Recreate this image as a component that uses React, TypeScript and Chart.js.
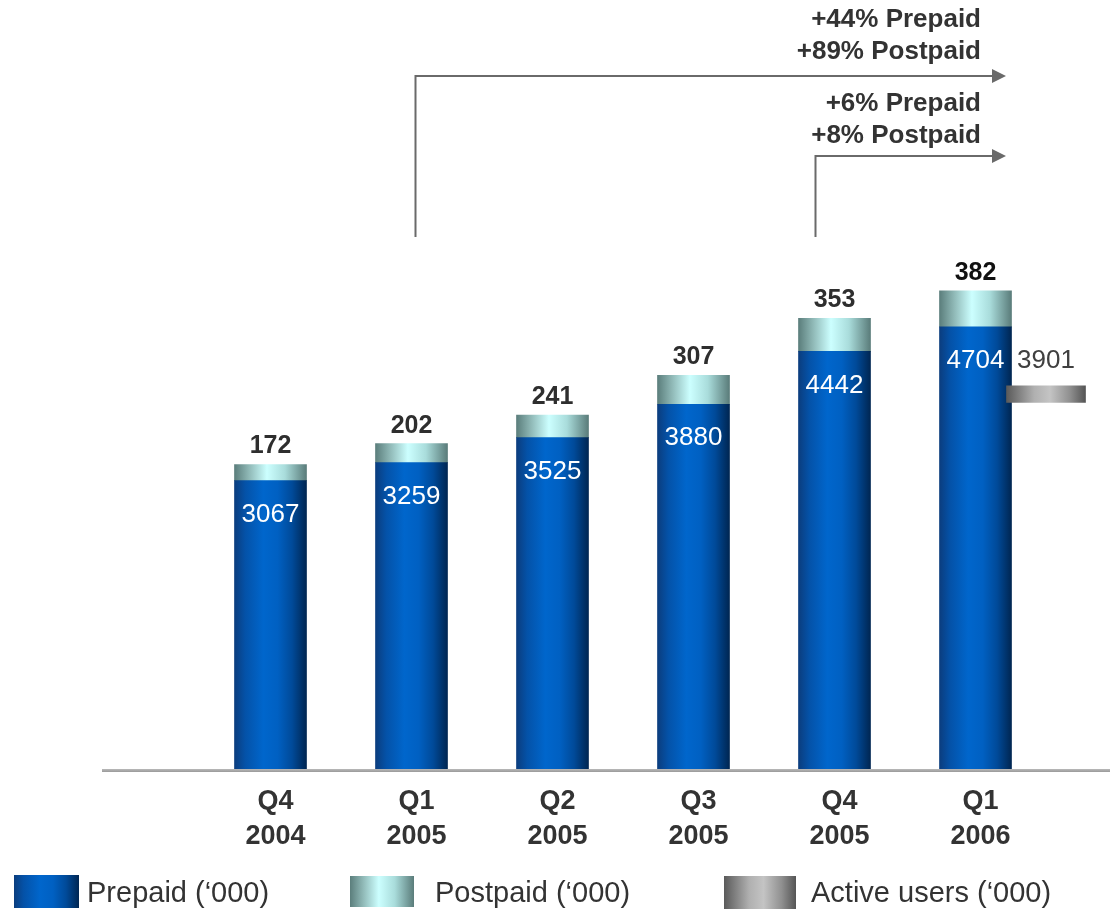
import React, { useEffect, useRef } from 'react';
import { Chart, registerables } from 'chart.js';

Chart.register(...registerables);

// ---- data ----
const quarters: string[][] = [
  ['Q4', '2004'],
  ['Q1', '2005'],
  ['Q2', '2005'],
  ['Q3', '2005'],
  ['Q4', '2005'],
  ['Q1', '2006'],
];
const prepaid = [3067, 3259, 3525, 3880, 4442, 4704];
const postpaid = [172, 202, 241, 307, 353, 382];
const activeUsers: (number | null)[] = [null, null, null, null, null, 3901];
const growthLong = ['+44% Prepaid', '+89% Postpaid'];
const growthShort = ['+6% Prepaid', '+8% Postpaid'];
const legendLabels = ['Prepaid (‘000)', 'Postpaid (‘000)', 'Active users (‘000)'];

// ---- styles ----
const FONT = '"Liberation Sans", Arial, Helvetica, sans-serif';
const BAR_W = 72;
const ACTIVE_W = 79;
const ACTIVE_MARK = 175; // thickness of the active-users marker (value units)

const prepaidStops: [number, string][] = [
  [0, '#0b3d7e'],
  [0.15, '#0452a8'],
  [0.4, '#0066cc'],
  [0.6, '#0060c2'],
  [0.8, '#004a99'],
  [1, '#002652'],
];
const postpaidStops: [number, string][] = [
  [0, '#5b7e7c'],
  [0.2, '#8fb8b6'],
  [0.45, '#ccffff'],
  [0.7, '#a9dcdb'],
  [1, '#5a7c7a'],
];
const activeStops: [number, string][] = [
  [0, '#5a5a5a'],
  [0.35, '#b0b0b0'],
  [0.55, '#c4c4c4'],
  [0.8, '#909090'],
  [1, '#555555'],
];

function grad(ctx: CanvasRenderingContext2D, x0: number, x1: number, stops: [number, string][]) {
  const g = ctx.createLinearGradient(x0, 0, x1, 0);
  stops.forEach(([o, c]) => g.addColorStop(o, c));
  return g;
}

function barFill(stops: [number, string][], width: number, axisId: string) {
  return (c: any) => {
    const chart = c.chart;
    const scale = chart.scales[axisId];
    if (!chart.chartArea || !scale || c.type !== 'data') return stops[2][1];
    const cx = scale.getPixelForValue(c.dataIndex);
    return grad(chart.ctx, cx - width / 2, cx + width / 2, stops);
  };
}

const baselinePlugin = {
  id: 'baseline',
  beforeDatasetsDraw(chart: any) {
    const { ctx, chartArea } = chart;
    ctx.save();
    const g = ctx.createLinearGradient(0, chartArea.bottom - 1, 0, chartArea.bottom + 3);
    g.addColorStop(0, '#c4c4c4');
    g.addColorStop(1, '#9a9a9a');
    ctx.fillStyle = g;
    ctx.fillRect(102, chartArea.bottom, 1110 - 102, 3);
    ctx.restore();
  },
};

const valueLabelsPlugin = {
  id: 'valueLabels',
  afterDatasetsDraw(chart: any) {
    const ctx = chart.ctx;
    ctx.save();
    ctx.textAlign = 'center';
    ctx.textBaseline = 'middle';
    chart.getDatasetMeta(0).data.forEach((bar: any, i: number) => {
      ctx.font = `26px ${FONT}`;
      ctx.fillStyle = '#ffffff';
      ctx.fillText(String(prepaid[i]), bar.x, bar.y + 34);
    });
    chart.getDatasetMeta(1).data.forEach((bar: any, i: number) => {
      ctx.font = `bold 25px ${FONT}`;
      ctx.fillStyle = i === postpaid.length - 1 ? '#111111' : '#2e2e2e';
      ctx.fillText(String(postpaid[i]), bar.x, bar.y - 18);
    });
    chart.getDatasetMeta(2).data.forEach((bar: any, i: number) => {
      const v = activeUsers[i];
      if (v == null) return;
      ctx.font = `26px ${FONT}`;
      ctx.fillStyle = '#404040';
      ctx.fillText(String(v), bar.x, bar.y - 25);
    });
    ctx.restore();
  },
};

const annotationPlugin = {
  id: 'growthArrows',
  afterDraw(chart: any) {
    const { ctx } = chart;
    const xs = chart.scales.x;
    const tipX = 1006;
    const headLen = 14;
    const drawArrow = (x: number, yTop: number, yBottom: number) => {
      ctx.beginPath();
      ctx.moveTo(x, yBottom);
      ctx.lineTo(x, yTop);
      ctx.lineTo(tipX - headLen, yTop);
      ctx.stroke();
      ctx.beginPath();
      ctx.moveTo(tipX - headLen, yTop - 7);
      ctx.lineTo(tipX, yTop);
      ctx.lineTo(tipX - headLen, yTop + 7);
      ctx.closePath();
      ctx.fill();
    };
    ctx.save();
    ctx.strokeStyle = '#6a6a6a';
    ctx.fillStyle = '#6a6a6a';
    ctx.lineWidth = 2;
    drawArrow(Math.round(xs.getPixelForValue(1)) + 3.5, 76, 237);
    drawArrow(Math.round(xs.getPixelForValue(4)) - 19.5, 156, 237);

    ctx.font = `bold 26px ${FONT}`;
    ctx.fillStyle = '#333333';
    ctx.textAlign = 'right';
    ctx.textBaseline = 'middle';
    ctx.fillText(growthLong[0], 981, 20);
    ctx.fillText(growthLong[1], 981, 52);
    ctx.fillText(growthShort[0], 981, 104);
    ctx.fillText(growthShort[1], 981, 136);
    ctx.restore();
  },
};

const legendPlugin = {
  id: 'customLegend',
  afterDraw(chart: any) {
    const { ctx } = chart;
    const items = [
      { box: [14, 875, 65, 33], stops: prepaidStops, textX: 87 },
      { box: [350, 876, 64, 31], stops: postpaidStops, textX: 435 },
      { box: [724, 876, 72, 33], stops: activeStops, textX: 811 },
    ];
    ctx.save();
    ctx.font = `29px ${FONT}`;
    ctx.textAlign = 'left';
    ctx.textBaseline = 'middle';
    items.forEach((it, i) => {
      const [x, y, w, h] = it.box;
      ctx.fillStyle = grad(ctx, x, x + w, it.stops);
      ctx.fillRect(x, y, w, h);
      ctx.fillStyle = '#333333';
      ctx.fillText(legendLabels[i], it.textX, 894);
    });
    ctx.restore();
  },
};

export default function App() {
  const ref = useRef<HTMLCanvasElement | null>(null);

  useEffect(() => {
    if (!ref.current) return;
    const chart = new Chart(ref.current, {
      type: 'bar',
      data: {
        labels: quarters as any,
        datasets: [
          {
            label: legendLabels[0],
            data: prepaid,
            backgroundColor: barFill(prepaidStops, BAR_W, 'x') as any,
            barThickness: BAR_W,
            grouped: false,
            stack: 'subs',
            xAxisID: 'x',
          },
          {
            label: legendLabels[1],
            data: postpaid,
            backgroundColor: barFill(postpaidStops, BAR_W, 'x') as any,
            barThickness: BAR_W,
            grouped: false,
            stack: 'subs',
            xAxisID: 'x',
          },
          {
            label: legendLabels[2],
            data: activeUsers.map((v) => (v == null ? null : [v, v + ACTIVE_MARK])) as any,
            backgroundColor: barFill(activeStops, ACTIVE_W, 'x2') as any,
            barThickness: ACTIVE_W,
            grouped: false,
            stack: 'active',
            xAxisID: 'x2',
            clip: false as any,
            order: -1,
          },
        ],
      },
      options: {
        animation: false,
        responsive: false,
        devicePixelRatio: 1,
        events: [],
        layout: { padding: { top: 17, left: 200, right: 64, bottom: 0 } },
        plugins: {
          legend: { display: false },
          tooltip: { enabled: false },
          title: { display: false },
        },
        scales: {
          x: {
            type: 'category',
            stacked: true,
            offset: true,
            grid: { display: false, drawTicks: false },
            border: { display: false },
            ticks: {
              autoSkip: false,
              maxRotation: 0,
              minRotation: 0,
              padding: 15,
              labelOffset: 5,
              color: '#333333',
              font: { family: FONT, size: 27, weight: 'bold', lineHeight: 1.3 },
            },
            afterFit: (s: any) => {
              s.height = 143;
            },
          },
          x2: {
            type: 'category',
            display: false,
            offset: false,
            stacked: true,
            grid: { display: false },
          },
          y: {
            stacked: true,
            display: false,
            min: 0,
            max: 8000,
          },
        },
      } as any,
      plugins: [baselinePlugin, valueLabelsPlugin, annotationPlugin, legendPlugin],
    });
    return () => chart.destroy();
  }, []);

  return (
    <div style={{ position: 'absolute', left: 0, top: 0, width: 1110, height: 912, background: '#ffffff' }}>
      <canvas ref={ref} width={1110} height={912} style={{ display: 'block' }} />
    </div>
  );
}
